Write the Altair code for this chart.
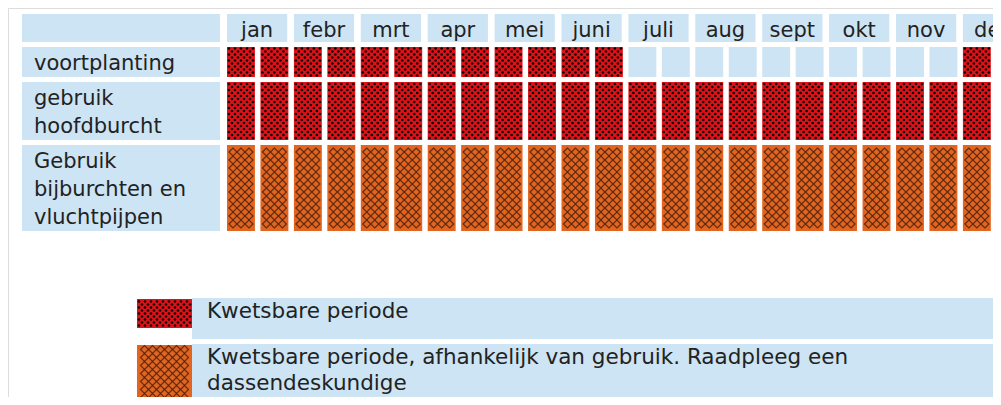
import altair as alt
import pandas as pd

# ---------------- data ----------------
months = ["jan", "febr", "mrt", "apr", "mei", "juni", "juli", "aug", "sept", "okt", "nov", "dec"]
row_lines = [["voortplanting"], ["gebruik", "hoofdburcht"], ["Gebruik", "bijburchten en", "vluchtpijpen"]]
# status per half month: K = kwetsbare periode, A = afhankelijk van gebruik, "" = niet kwetsbaar
voortplanting = ["K"] * 12 + [""] * 10 + ["K"] * 2
hoofdburcht = ["K"] * 24
bijburchten = ["A"] * 24
row_status = [voortplanting, hoofdburcht, bijburchten]
legend_keys = ["K", "A"]
legend_lines = [["Kwetsbare periode"],
                ["Kwetsbare periode, afhankelijk van gebruik. Raadpleeg een", "dassendeskundige"]]

# ---------------- layout (pixels) ----------------
W, H = 985, 389
X0 = 219.0          # left edge of first half-month slot
P = 33.45           # width of one half-month slot
CELL = 0.835        # cell width, in slots
MONTH_W = 1.80      # month header width, in slots
LINE = 28
LEG_LINE = 26
GAP = 5
Y_HEAD = 6
LAB_X0, LAB_X1, LAB_TX = 14, 212, 26
LEG_Y0, SW_X0, SW_X1, LEG_TX = 290, 129, 184, 199

BLUE = "#cde4f4"
RED = "#dc141a"
ORANGE = "#e2641f"
DOT = 3.0           # checker size of the red pattern
DIA = 8.0           # diamond size of the orange pattern
TEXT = "#222222"
FONT = "DejaVu Sans"
FS, FS_LEG = 21, 21.5


def u(px):
    return (px - X0) / P


# ---------------- tables ----------------
boxes, cells, texts = [], [], []
boxes.append(dict(x=u(LAB_X0), x2=u(LAB_X1), y=Y_HEAD, y2=Y_HEAD + LINE, c="box"))
for m, name in enumerate(months):
    boxes.append(dict(x=2 * m, x2=2 * m + MONTH_W, y=Y_HEAD, y2=Y_HEAD + LINE, c="box"))
    texts.append(dict(x=2 * m + MONTH_W / 2, y=Y_HEAD + LINE / 2 + 2.5, t=name, a="center", fs=FS))

top = Y_HEAD + LINE + GAP
for lines, status in zip(row_lines, row_status):
    h = LINE * len(lines) + 2
    boxes.append(dict(x=u(LAB_X0), x2=u(LAB_X1), y=top, y2=top + h, c="box"))
    for k, ln in enumerate(lines):
        texts.append(dict(x=u(LAB_TX), y=top + 17 + LINE * k, t=ln, a="left", fs=FS))
    for s, st in enumerate(status):
        cells.append(dict(x=s, x2=s + CELL, y=top, y2=top + h, c=st if st else "box"))
    top += h + GAP

ltop = LEG_Y0
for key, lines in zip(legend_keys, legend_lines):
    n = len(lines)
    boxes.append(dict(x=u(SW_X1), x2=u(W + 60), y=ltop, y2=ltop + LINE * n + 13, c="box"))
    cells.append(dict(x=u(SW_X0), x2=u(SW_X1), y=ltop + 1, y2=ltop + 2 + LINE * n, c=key))
    for k, ln in enumerate(lines):
        texts.append(dict(x=u(LEG_TX), y=ltop + 14 + LEG_LINE * k, t=ln, a="left", fs=FS_LEG))
    ltop += LINE * n + 13 + GAP

df_rect = pd.DataFrame(boxes + cells)
df_cells = pd.DataFrame(cells)
df_text = pd.DataFrame(texts)

xs = alt.Scale(domain=[u(0), u(W)], nice=False, zero=False)
ys = alt.Scale(domain=[0, H], reverse=True, nice=False, zero=False)
col = alt.Scale(domain=["box", "K", "A"], range=[BLUE, RED, ORANGE])

X = alt.X("px:Q", scale=xs, axis=None)
Y = alt.Y("py:Q", scale=ys, axis=None)

rects = alt.Chart(df_rect).mark_rect(clip=True).encode(
    x=alt.X("x:Q", scale=xs, axis=None),
    x2="x2:Q",
    y=alt.Y("y:Q", scale=ys, axis=None),
    y2="y2:Q",
    fill=alt.Fill("c:N", scale=col, legend=None),
)


def grid_texture(key, step):
    """Regular grid of pattern points inside each cell of the given kind."""
    return alt.Chart(df_cells).transform_filter(
        alt.datum.c == key
    ).transform_calculate(
        wpx=f"(datum.x2 - datum.x) * {P}", hpx="datum.y2 - datum.y"
    ).transform_calculate(
        nx=f"floor(datum.wpx / {step})", ny=f"floor(datum.hpx / {step})"
    ).transform_calculate(
        gx="sequence(0, datum.nx)"
    ).transform_flatten(["gx"]).transform_calculate(
        gy="sequence(0, datum.ny)"
    ).transform_flatten(["gy"]).transform_calculate(
        px=f"datum.x + ((datum.wpx - datum.nx * {step}) / 2 + datum.gx * {step} + {step} / 2) / {P}",
        py=f"datum.y + (datum.hpx - datum.ny * {step}) / 2 + datum.gy * {step} + {step} / 2",
    )


dots = grid_texture("K", DOT).transform_filter(
    "(datum.gx + datum.gy) % 2 == 0"
).mark_circle(size=7, color="#120000", opacity=1, clip=True).encode(x=X, y=Y)

diamonds = grid_texture("A", DIA).mark_point(
    shape="diamond", size=DIA * DIA, filled=False, stroke="#4a2412",
    strokeWidth=1.2, opacity=0.85, clip=True
).encode(x=X, y=Y)


def text_layer(align):
    return alt.Chart(df_text[df_text.a == align]).mark_text(
        align=align, baseline="middle", font=FONT, color=TEXT, clip=True
    ).encode(
        x=alt.X("x:Q", scale=xs, axis=None),
        y=alt.Y("y:Q", scale=ys, axis=None),
        text="t:N",
        size=alt.Size("fs:Q", scale=None, legend=None),
    )


chart = alt.layer(rects, dots, diamonds, text_layer("center"), text_layer("left")).properties(
    width=W, height=H, padding=0, autosize=alt.AutoSizeParams(type="none")
).configure_view(stroke=None).configure(background="white")

chart.save("out.html", embed_options={"renderer": "svg", "actions": False})
